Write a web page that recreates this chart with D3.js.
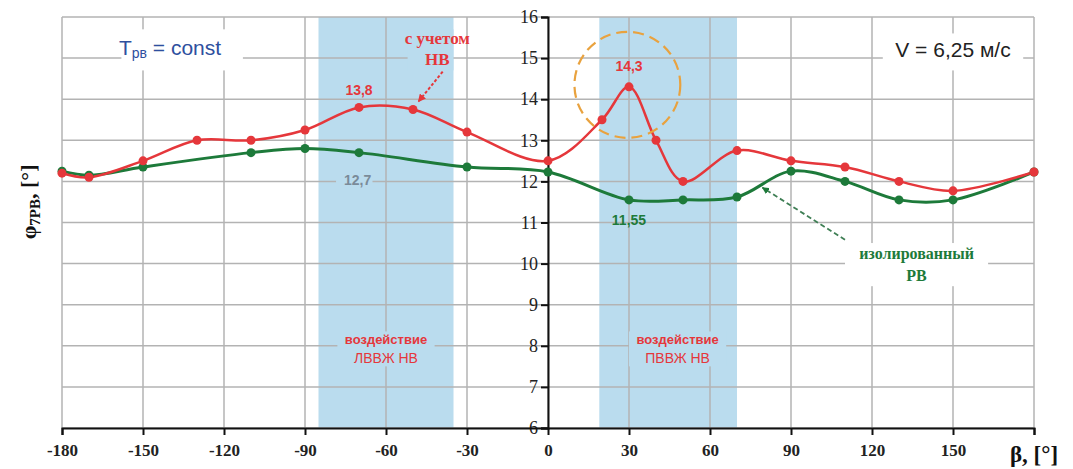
<!DOCTYPE html>
<html lang="ru">
<head>
<meta charset="UTF-8">
<title>φ7РВ(β)</title>
<script src="https://cdn.jsdelivr.net/npm/d3@7/dist/d3.min.js"></script>
<style>
  body { margin: 0; background: #fff; }
  svg { display: block; }
  .serif { font-family: "Liberation Serif", "DejaVu Serif", serif; }
  .sans { font-family: "Liberation Sans", Arial, sans-serif; }
</style>
</head>
<body>
<svg id="chart" width="1073" height="469"></svg>
<script>
// данные
const redX = [-180, -170, -150, -130, -110, -90, -70, -50, -30, 0, 20, 30, 40, 50, 70, 90, 110, 130, 150, 180];
const redY = [12.2, 12.1, 12.5, 13.0, 13.0, 13.25, 13.8, 13.75, 13.2, 12.5, 13.5, 14.3, 13.0, 12.0, 12.75, 12.5, 12.35, 12.0, 11.77, 12.23];
const greenX = [-180, -170, -150, -110, -90, -70, -30, 0, 30, 50, 70, 90, 110, 130, 150, 180];
const greenY = [12.25, 12.15, 12.35, 12.7, 12.8, 12.7, 12.35, 12.23, 11.55, 11.55, 11.62, 12.25, 12.0, 11.55, 11.55, 12.23];
const bands = [[-85, -35], [19, 70]];
const xTicks = [-180, -150, -120, -90, -60, -30, 0, 30, 60, 90, 120, 150, 180];
const yTicks = [6, 7, 8, 9, 10, 11, 12, 13, 14, 15, 16];

const svg = d3.select("#chart");
const margin = { top: 17, right: 39, bottom: 41, left: 62 };
const W = 1073, H = 469;

const x = d3.scaleLinear().domain([-180, 180]).range([margin.left, W - margin.right]);
const y = d3.scaleLinear().domain([6, 16]).range([H - margin.bottom, margin.top]);

const RED = "#e5373b", GREEN = "#1d7a3a", BAND = "#badcee", GRID = "#b3b3b3";

// полосы воздействия
svg.append("g").selectAll("rect").data(bands).join("rect")
  .attr("x", d => x(d[0])).attr("width", d => x(d[1]) - x(d[0]))
  .attr("y", y(16)).attr("height", y(6) - y(16))
  .attr("fill", BAND);

// сетка
const grid = svg.append("g").attr("stroke", GRID).attr("stroke-width", 1.5);
grid.selectAll(".h").data(yTicks).join("line")
  .attr("x1", x(-180)).attr("x2", x(180))
  .attr("y1", d => y(d)).attr("y2", d => y(d));
grid.selectAll(".v").data(xTicks).join("line")
  .attr("y1", y(6)).attr("y2", y(16))
  .attr("x1", d => x(d)).attr("x2", d => x(d));

// подложки под подписи (перекрывают сетку)
function pad(x0, x1, y0, y1, fill) {
  svg.append("rect")
    .attr("x", x(x0)).attr("width", x(x1) - x(x0))
    .attr("y", y(y1)).attr("height", y(y0) - y(y1))
    .attr("fill", fill);
}
pad(-158, -113, 14.7, 15.7, "#fff");
pad(124, 176, 14.7, 15.6, "#fff");
pad(110, 163, 9.45, 10.5, "#fff");
pad(-78.5, -65, 11.85, 12.15, BAND);
pad(-52, -35, 14.7, 15.7, BAND);
pad(-78, -42, 7.5, 8.35, BAND);
pad(30, 66, 7.5, 8.35, BAND);

// оси
const yAxis = svg.append("g").attr("transform", `translate(${x(0)},0)`)
  .call(d3.axisLeft(y).tickValues(yTicks).tickSize(7).tickPadding(3));
const xAxis = svg.append("g").attr("transform", `translate(0,${y(6)})`)
  .call(d3.axisBottom(x).tickValues(xTicks).tickFormat(d => String(d)).tickSize(7).tickPadding(9));
[xAxis, yAxis].forEach(a => {
  a.select(".domain").attr("stroke", "#111").attr("stroke-width", 2);
  a.selectAll(".tick line").attr("stroke", "#111").attr("stroke-width", 2);
  a.selectAll(".tick text")
    .attr("class", "serif").attr("font-size", 17).attr("font-weight", "bold")
    .attr("fill", "#222");
});
xAxis.select(".tick:last-of-type text").remove();
yAxis.selectAll(".tick text").attr("font-weight", "normal").attr("font-size", 18);

// кривые
const line = d3.line().x(d => x(d[0])).y(d => y(d[1])).curve(d3.curveCatmullRom.alpha(0.5));
const red = redX.map((v, i) => [v, redY[i]]);
const green = greenX.map((v, i) => [v, greenY[i]]);

svg.append("path").datum(green).attr("d", line)
  .attr("fill", "none").attr("stroke", GREEN).attr("stroke-width", 3);
svg.append("path").datum(red).attr("d", line)
  .attr("fill", "none").attr("stroke", RED).attr("stroke-width", 2.5);

svg.append("g").selectAll("circle").data(green).join("circle")
  .attr("cx", d => x(d[0])).attr("cy", d => y(d[1])).attr("r", 4.5).attr("fill", GREEN);
svg.append("g").selectAll("circle").data(red).join("circle")
  .attr("cx", d => x(d[0])).attr("cy", d => y(d[1])).attr("r", 4.5).attr("fill", RED);

// подписи
function label(t, px, py, opts) {
  const el = svg.append("text")
    .attr("x", x(px)).attr("y", y(py))
    .attr("text-anchor", "middle").attr("dominant-baseline", "middle")
    .attr("class", opts.cls || "sans")
    .attr("font-size", opts.size || 14)
    .attr("font-weight", opts.weight || "normal")
    .attr("fill", opts.color || "#000");
  el.text(t);
  return el;
}

const tl = svg.append("text").attr("class", "sans")
  .attr("x", x(-140)).attr("y", y(15.22)).attr("text-anchor", "middle")
  .attr("dominant-baseline", "middle").attr("fill", "#2e4f9e").attr("font-size", 21);
tl.append("tspan").text("T");
tl.append("tspan").text("рв").attr("font-size", 14).attr("dy", 5);
tl.append("tspan").text(" = const").attr("dy", -5);

label("V = 6,25 м/с", 150, 15.15, { size: 21, color: "#222" });

label("с учетом", -41, 15.45, { cls: "serif", size: 17, weight: "bold", color: RED });
label("НВ", -41, 14.93, { cls: "serif", size: 17, weight: "bold", color: RED });

label("13,8", -70, 14.2, { size: 14, weight: "bold", color: RED });
label("14,3", 30, 14.77, { size: 14, weight: "bold", color: RED });
label("12,7", -70.5, 12.0, { size: 14, weight: "bold", color: "#7a8b99" });
label("11,55", 30, 11.02, { size: 14, weight: "bold", color: GREEN });

label("воздействие", -60, 8.13, { size: 13, weight: "bold", color: RED });
label("ЛВВЖ НВ", -60, 7.68, { size: 14, color: RED });
label("воздействие", 48, 8.13, { size: 13, weight: "bold", color: RED });
label("ПВВЖ НВ", 48, 7.68, { size: 14, color: RED });

label("изолированный", 136.5, 10.2, { cls: "serif", size: 16, weight: "bold", color: GREEN });
label("РВ", 136.5, 9.66, { cls: "serif", size: 16, weight: "bold", color: GREEN });

// оранжевый пунктирный круг
svg.append("ellipse")
  .attr("cx", x(29.4)).attr("cy", y(14.35))
  .attr("rx", x(19.6) - x(0)).attr("ry", y(16) - y(17.29))
  .attr("fill", "none").attr("stroke", "#e9a23e").attr("stroke-width", 2.2)
  .attr("stroke-dasharray", "11 6");

// стрелки
const defs = svg.append("defs");
[["arR", RED], ["arG", GREEN]].forEach(([id, c]) => {
  defs.append("marker").attr("id", id).attr("viewBox", "0 0 10 10")
    .attr("refX", 9).attr("refY", 5).attr("markerWidth", 4).attr("markerHeight", 4)
    .attr("orient", "auto")
    .append("path").attr("d", "M0,0L10,5L0,10z").attr("fill", c);
});
svg.append("line")
  .attr("x1", x(-39)).attr("y1", y(14.67)).attr("x2", x(-48)).attr("y2", y(13.94))
  .attr("stroke", RED).attr("stroke-width", 2).attr("stroke-dasharray", "3 2")
  .attr("marker-end", "url(#arR)");
svg.append("line")
  .attr("x1", x(110)).attr("y1", y(10.58)).attr("x2", x(79.4)).attr("y2", y(11.85))
  .attr("stroke", "#3f7f55").attr("stroke-width", 1.8).attr("stroke-dasharray", "5 3")
  .attr("marker-end", "url(#arG)");

// подписи осей
const yl = svg.append("text").attr("class", "serif")
  .attr("transform", `translate(36,${y(11.5)}) rotate(-90)`)
  .attr("text-anchor", "middle").attr("font-weight", "bold").attr("font-size", 22).attr("fill", "#111");
yl.append("tspan").text("φ");
yl.append("tspan").text("7РВ").attr("font-size", 15).attr("dy", 4);
yl.append("tspan").text(", [°]").attr("dy", -4);

svg.append("text").attr("class", "serif")
  .attr("x", x(180)).attr("y", 462).attr("text-anchor", "middle")
  .attr("font-weight", "bold").attr("font-size", 23).attr("fill", "#111")
  .text("β, [°]");
</script>
</body>
</html>
